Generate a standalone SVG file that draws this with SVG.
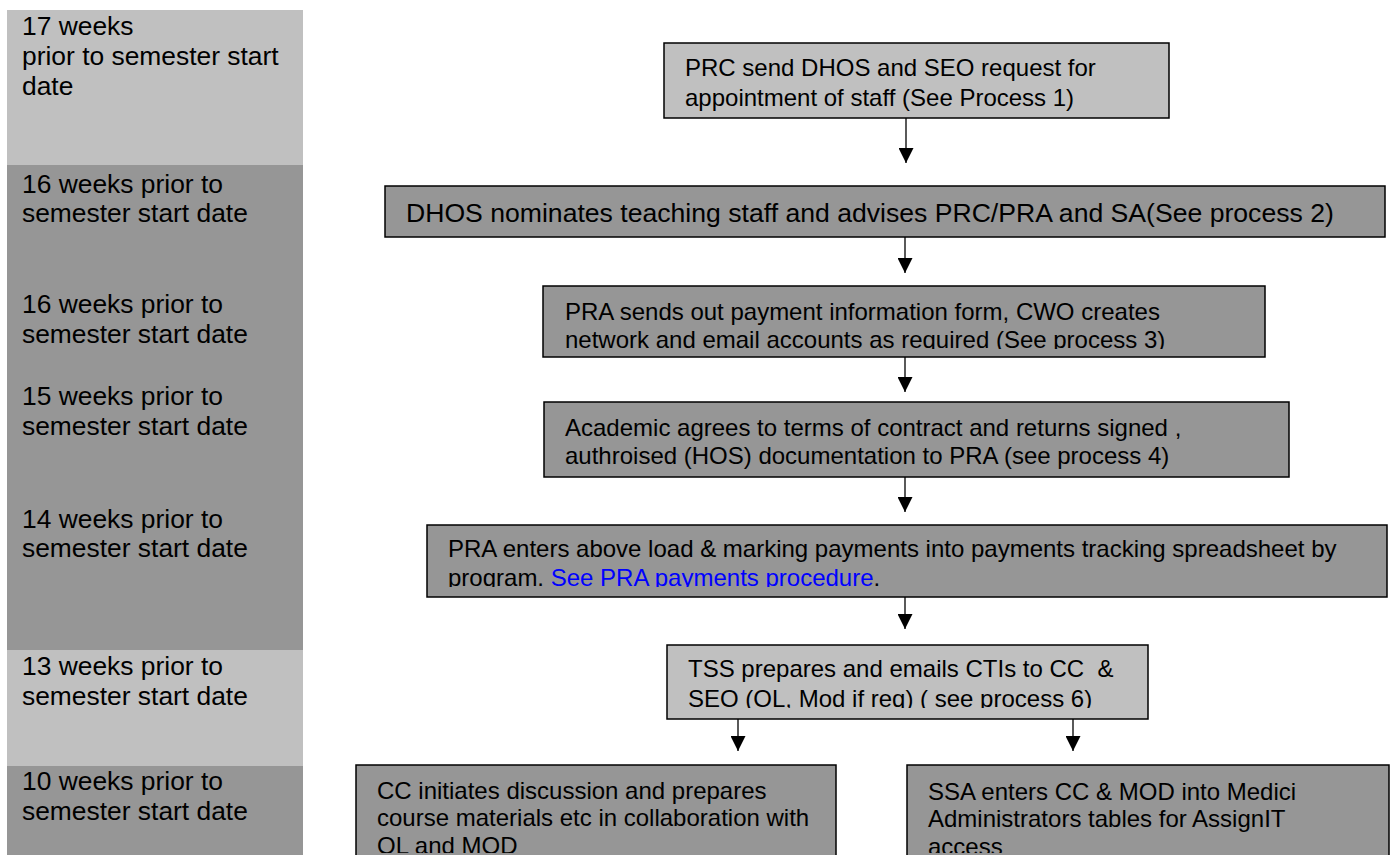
<svg xmlns="http://www.w3.org/2000/svg" width="1395" height="855" viewBox="0 0 1395 855">
<style>
  .lbl { font-family: "Liberation Sans", Arial, sans-serif; font-size: 26.4px; fill: #000; }
  .t { font-family: "Liberation Sans", Arial, sans-serif; font-size: 24px; fill: #000; }
  .big { font-size: 26.6px; }
  .light { fill: #c0c0c0; }
  .dark { fill: #969696; }
  .box { stroke: #000; stroke-width: 1.5; }
  .link { fill: #0000ff; }
  .conn line { stroke: #000; stroke-width: 1.3; }
</style>
<defs>
  <marker id="ah" markerUnits="userSpaceOnUse" markerWidth="15" markerHeight="15" refX="15" refY="7.5" orient="auto" viewBox="0 0 15 15">
    <path d="M0,0 L15,7.5 L0,15 z" fill="#000"/>
  </marker>
  <clipPath id="c3"><rect x="543" y="286" width="722" height="63"/></clipPath>
  <clipPath id="c5"><rect x="427" y="525" width="960" height="62"/></clipPath>
  <clipPath id="c6"><rect x="667" y="645" width="481" height="63"/></clipPath>
  <clipPath id="c78"><rect x="0" y="765" width="1395" height="88"/></clipPath>
</defs>
<rect width="1395" height="855" fill="#fff"/>

<g id="timeline">
  <rect class="light" x="7" y="10" width="296" height="155"/>
  <rect class="dark" x="7" y="165" width="296" height="485"/>
  <rect class="light" x="7" y="650" width="296" height="116"/>
  <rect class="dark" x="7" y="766" width="296" height="89"/>
  <text class="lbl" x="22" y="35">17 weeks</text>
  <text class="lbl" x="22" y="65">prior to semester start</text>
  <text class="lbl" x="22" y="95">date</text>
  <text class="lbl" x="22" y="193">16 weeks prior to</text>
  <text class="lbl" x="22" y="222">semester start date</text>
  <text class="lbl" x="22" y="313">16 weeks prior to</text>
  <text class="lbl" x="22" y="343">semester start date</text>
  <text class="lbl" x="22" y="405">15 weeks prior to</text>
  <text class="lbl" x="22" y="435">semester start date</text>
  <text class="lbl" x="22" y="528">14 weeks prior to</text>
  <text class="lbl" x="22" y="557">semester start date</text>
  <text class="lbl" x="22" y="675">13 weeks prior to</text>
  <text class="lbl" x="22" y="705">semester start date</text>
  <text class="lbl" x="22" y="790">10 weeks prior to</text>
  <text class="lbl" x="22" y="820">semester start date</text>
</g>

<g id="n1">
  <rect class="box light" x="664" y="43" width="505" height="75"/>
  <text class="t" x="685" y="76">PRC send DHOS and SEO request for</text>
  <text class="t" x="685" y="106">appointment of staff (See Process 1)</text>
</g>
<g id="n2">
  <rect class="box dark" x="385" y="186" width="1000" height="51"/>
  <text class="t big" x="406" y="222">DHOS nominates teaching staff and advises PRC/PRA and SA(See process 2)</text>
</g>
<g id="n3">
  <rect class="box dark" x="543" y="286" width="722" height="71"/>
  <g clip-path="url(#c3)">
    <text class="t" x="565" y="320">PRA sends out payment information form, CWO creates</text>
    <text class="t" x="565" y="348">network and email accounts as required (See process 3)</text>
  </g>
</g>
<g id="n4">
  <rect class="box dark" x="544" y="402" width="745" height="75"/>
  <text class="t" x="565" y="436">Academic agrees to terms of contract and returns signed ,</text>
  <text class="t" x="565" y="464">authroised (HOS) documentation to PRA (see process 4)</text>
</g>
<g id="n5">
  <rect class="box dark" x="427" y="525" width="960" height="72"/>
  <g clip-path="url(#c5)">
    <text class="t" x="448" y="557">PRA enters above load &amp; marking payments into payments tracking spreadsheet by</text>
    <text class="t" x="448" y="586">program. <tspan class="link">See PRA payments procedure</tspan>.</text>
  </g>
</g>
<g id="n6">
  <rect class="box light" x="667" y="645" width="481" height="74"/>
  <g clip-path="url(#c6)">
    <text class="t" x="688" y="677" xml:space="preserve">TSS prepares and emails CTIs to CC  &amp;</text>
    <text class="t" x="688" y="707">SEO (OL, Mod if req) ( see process 6)</text>
  </g>
</g>
<g id="n7">
  <rect class="box dark" x="356" y="765" width="480" height="100"/>
  <g clip-path="url(#c78)">
    <text class="t" x="377" y="799">CC initiates discussion and prepares</text>
    <text class="t" x="377" y="826">course materials etc in collaboration with</text>
    <text class="t" x="377" y="854">OL and MOD</text>
  </g>
</g>
<g id="n8">
  <rect class="box dark" x="907" y="765" width="482" height="100"/>
  <g clip-path="url(#c78)">
    <text class="t" x="928" y="800">SSA enters CC &amp; MOD into Medici</text>
    <text class="t" x="928" y="827">Administrators tables for AssignIT</text>
    <text class="t" x="928" y="855">access</text>
  </g>
</g>

<g id="connectors" class="conn">
  <line x1="906" y1="118" x2="906" y2="163" marker-end="url(#ah)"/>
  <line x1="905" y1="237" x2="905" y2="273" marker-end="url(#ah)"/>
  <line x1="905" y1="357" x2="905" y2="392" marker-end="url(#ah)"/>
  <line x1="905" y1="477" x2="905" y2="512" marker-end="url(#ah)"/>
  <line x1="905" y1="597" x2="905" y2="629" marker-end="url(#ah)"/>
  <line x1="738" y1="719" x2="738" y2="751" marker-end="url(#ah)"/>
  <line x1="1073" y1="719" x2="1073" y2="751" marker-end="url(#ah)"/>
</g>
</svg>
